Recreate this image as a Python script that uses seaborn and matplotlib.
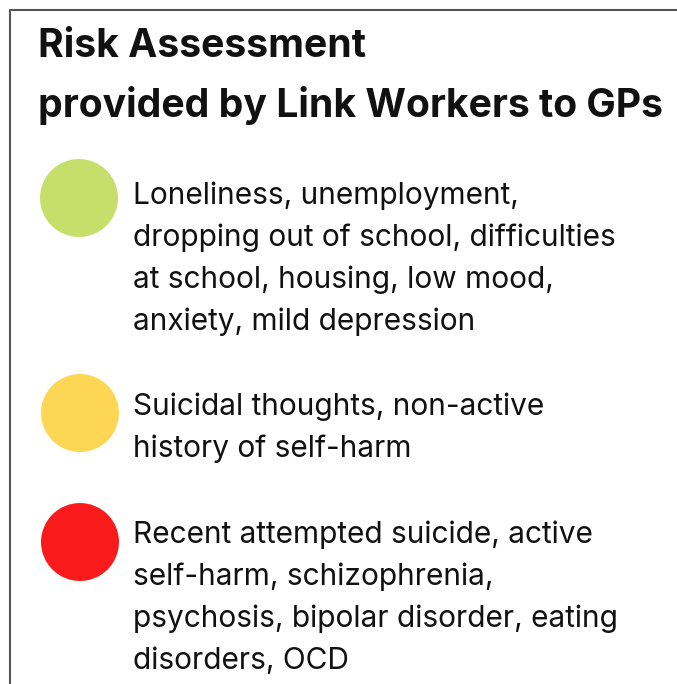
import matplotlib.pyplot as plt
import seaborn as sns
import pandas as pd

# Níveis de risco e descrições
niveis = ['baixo', 'medio', 'alto']
cores = ['#C6DF6B', '#FDD754', '#F91B1B']
descricoes = [
    ['Loneliness, unemployment,',
     'dropping out of school, difficulties',
     'at school, housing, low mood,',
     'anxiety, mild depression'],
    ['Suicidal thoughts, non-active',
     'history of self-harm'],
    ['Recent attempted suicide, active',
     'self-harm, schizophrenia,',
     'psychosis, bipolar disorder, eating',
     'disorders, OCD'],
]
titulo = ['Risk Assessment', 'provided by Link Workers to GPs']

# posição vertical de cada círculo e da 1a linha de texto (pixels)
circulo_y = [198, 413, 542]
texto_y = [204, 415, 543]

sns.set_theme(style='white')
plt.rcParams['font.family'] = ['Inter', 'DejaVu Sans']

fig = plt.figure(figsize=(6.77, 6.84), dpi=100)
ax = fig.add_axes([0, 0, 1, 1])
ax.set_xlim(0, 677)
ax.set_ylim(684, 0)
ax.axis('off')

# moldura cinza
ax.plot([10, 10, 690], [700, 10, 10], color='#555555', lw=1.5)

df = pd.DataFrame({'nivel': niveis, 'x': [79, 80, 80], 'y': circulo_y})
sns.scatterplot(data=df, x='x', y='y', hue='nivel', palette=cores,
                s=3150, linewidth=0, legend=False, ax=ax)

for i, linha in enumerate(titulo):
    ax.text(38, 57 + i * 60, linha, fontsize=28.2, fontweight='bold',
            color='#111111', va='baseline', ha='left')

for k, bloco in enumerate(descricoes):
    for j, linha in enumerate(bloco):
        ax.text(133, texto_y[k] + j * 42, linha, fontsize=21.5,
                color='#111111', va='baseline', ha='left')

ax.set_xlabel('')
ax.set_ylabel('')
plt.savefig('out.png', dpi=100)
